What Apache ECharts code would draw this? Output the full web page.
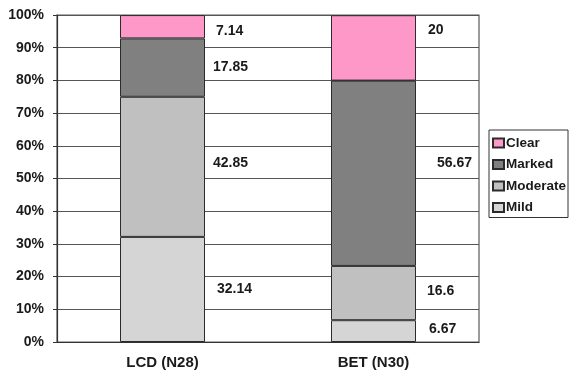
<!DOCTYPE html>
<html>
<head>
<meta charset="utf-8">
<script src="https://cdn.jsdelivr.net/npm/echarts@6/dist/echarts.min.js"></script>
<style>
  html, body { margin: 0; padding: 0; background: #fff; }
  #chart { width: 572px; height: 374px; }
</style>
</head>
<body>
<div id="chart"></div>
<script>
// Response categories per treatment group (percent of patients)
const categories = ['LCD (N28)', 'BET (N30)'];
const mild = [32.14, 6.67];
const moderate = [42.85, 16.6];
const marked = [17.85, 56.67];
const clear = [7.14, 20];
const yTickLabels = ['0%', '10%', '20%', '30%', '40%', '50%', '60%', '70%', '80%', '90%', '100%'];

// Value-label nudges [dx, dy] in pixels, one per category, beside each segment
const labelNudge = {
  Mild: [[12, 0], [13, -2]],
  Moderate: [[8, -4], [11, -2]],
  Marked: [[8, 0], [21, -10]],
  Clear: [[11, 4], [12, -18]]
};

const FONT = 'Liberation Sans, Arial, Helvetica, sans-serif';

function makeSeries(name, values, color) {
  return {
    name: name,
    type: 'bar',
    stack: 'total',
    barWidth: 85,
    itemStyle: { color: color, borderColor: '#2b2b2b', borderWidth: 1 },
    data: values.map(function (v, i) {
      return {
        value: v,
        label: {
          show: true,
          position: 'right',
          distance: 0,
          offset: labelNudge[name][i],
          align: 'left',
          verticalAlign: 'middle',
          formatter: String(v),
          fontFamily: FONT,
          fontWeight: 'bold',
          fontSize: 14,
          color: '#1a1a1a'
        }
      };
    })
  };
}

const chart = echarts.init(document.getElementById('chart'), null, { renderer: 'canvas' });
chart.setOption({
  animation: false,
  backgroundColor: '#ffffff',
  grid: {
    left: 57, right: 93, top: 15, bottom: 32,
    show: true, borderColor: '#5a5a5a', borderWidth: 1.2,
    backgroundColor: 'transparent',
    containLabel: false
  },
  legend: {
    orient: 'vertical',
    left: 489,
    top: 130,
    padding: [6, 2, 3, 3],
    itemGap: 7.5,
    itemWidth: 11,
    itemHeight: 9,
    icon: 'rect',
    borderColor: '#333',
    borderWidth: 1,
    data: ['Clear', 'Marked', 'Moderate', 'Mild'],
    textStyle: {
      fontFamily: FONT, fontWeight: 'bold', fontSize: 13.5, color: '#1a1a1a',
      lineHeight: 14, padding: [0, 0, 0, -3]
    }
  },
  xAxis: {
    type: 'category',
    data: categories,
    axisTick: { show: false },
    axisLine: { lineStyle: { color: '#333', width: 1.2 } },
    axisLabel: {
      margin: 13, fontFamily: FONT, fontWeight: 'bold', fontSize: 15, color: '#1a1a1a'
    }
  },
  yAxis: {
    type: 'value',
    min: 0, max: 100, interval: 10,
    axisLine: { show: true, lineStyle: { color: '#333', width: 1.2 } },
    axisTick: { show: true, length: 4, lineStyle: { color: '#333' } },
    splitLine: { lineStyle: { color: '#555', width: 1.2 } },
    axisLabel: {
      margin: 13,
      fontFamily: FONT, fontWeight: 'bold', fontSize: 14, color: '#1a1a1a',
      formatter: function (v) { return yTickLabels[Math.round(v / 10)]; }
    }
  },
  series: [
    makeSeries('Mild', mild, '#d5d5d5'),
    makeSeries('Moderate', moderate, '#c0c0c0'),
    makeSeries('Marked', marked, '#808080'),
    makeSeries('Clear', clear, '#fd98c9')
  ]
});
</script>
</body>
</html>
